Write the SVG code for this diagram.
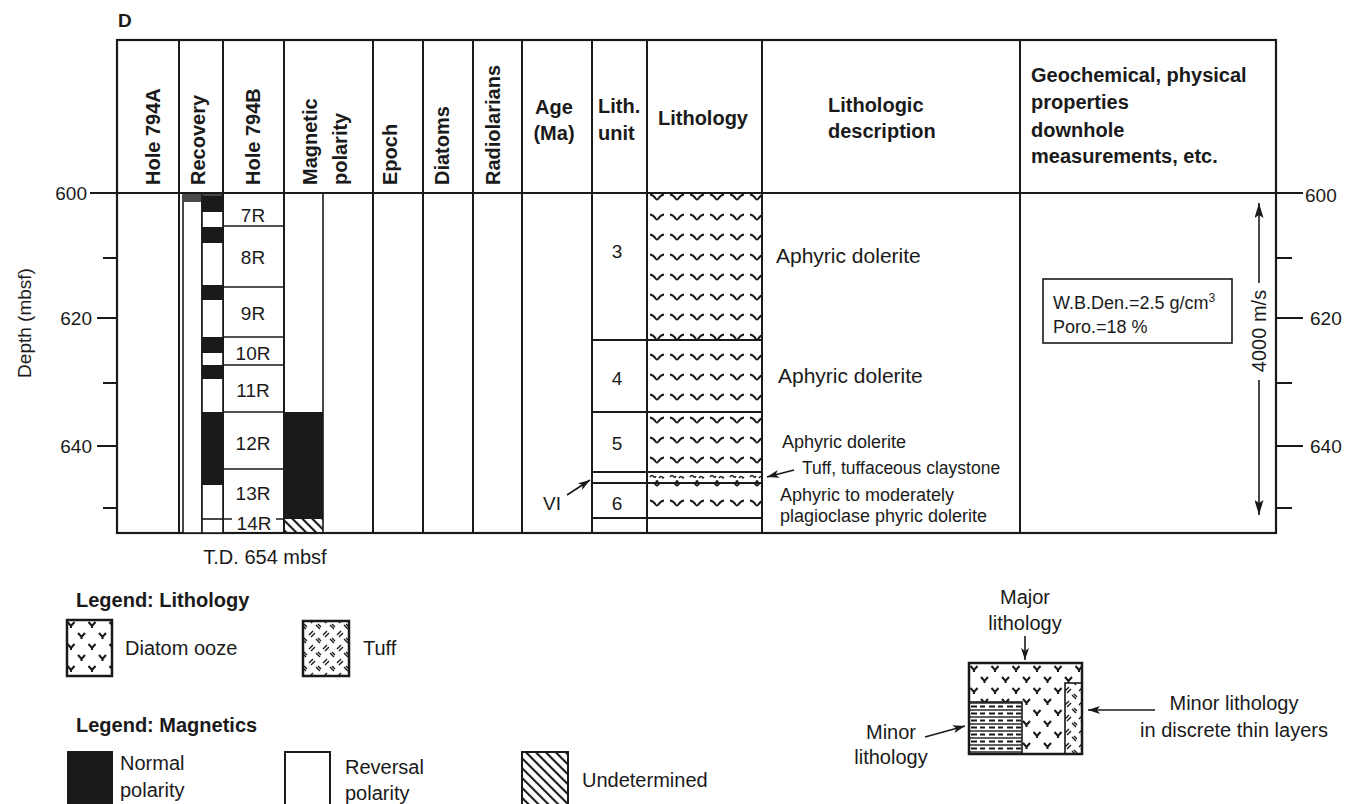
<svg xmlns="http://www.w3.org/2000/svg" width="1346" height="804" viewBox="0 0 1346 804">
<style>
text{font-family:"Liberation Sans",Arial,Helvetica,sans-serif;fill:#1a1a1a}
.h{font-weight:bold;font-size:20px}
.t20{font-size:20px}
.t19{font-size:19px}
.t18{font-size:18px}
.t21{font-size:21px}
.mid{text-anchor:middle}
.end{text-anchor:end}
.ln{stroke:#1a1a1a;stroke-width:2;fill:none}
.thin{stroke:#1a1a1a;stroke-width:1.6;fill:none}
.blk{fill:#1a1a1a}
.wb{fill:#fff;stroke:#1a1a1a;stroke-width:1.6}
.arr{stroke:#1a1a1a;stroke-width:1.6;fill:none;marker-end:url(#ah)}
.arrL{stroke:#1a1a1a;stroke-width:1.6;fill:none;marker-end:url(#ahL)}
.vv{fill:none;stroke:#1a1a1a;stroke-width:1.9}
</style>
<defs>
<marker id="ah" viewBox="0 0 12 8" refX="12" refY="4" markerWidth="12" markerHeight="8" markerUnits="userSpaceOnUse" orient="auto">
<path d="M0,0 L12,4 L0,8 L3,4 z" fill="#1a1a1a"/>
</marker>
<marker id="ahL" viewBox="0 0 15 9" refX="15" refY="4.5" markerWidth="15" markerHeight="9" markerUnits="userSpaceOnUse" orient="auto">
<path d="M0,0 L15,4.5 L0,9 L3,4.5 z" fill="#1a1a1a"/>
</marker>
<pattern id="dolA" patternUnits="userSpaceOnUse" x="647" y="187" width="20" height="20">
<path class="vv" d="M3,7.5 Q6.5,8 9,12 Q10,13.2 11,12 Q13.5,8 17,7.5"/>
</pattern>
<pattern id="dolB" patternUnits="userSpaceOnUse" x="647" y="410" width="20" height="20">
<path class="vv" d="M3,7.5 Q6.5,8 9,12 Q10,13.2 11,12 Q13.5,8 17,7.5"/>
</pattern>
<pattern id="dolC" patternUnits="userSpaceOnUse" x="647" y="473" width="20" height="20">
<path class="vv" d="M3,7.5 Q6.5,8 9,12 Q10,13.2 11,12 Q13.5,8 17,7.5"/>
</pattern>
<pattern id="tuffband" patternUnits="userSpaceOnUse" x="647" y="472" width="20" height="11">
<path d="M3,5 q2,-3 4,0 q1,1 2,-1 M12,6 q2,-3 4,0 l1,-1" fill="none" stroke="#1a1a1a" stroke-width="1.4"/>
<circle cx="10" cy="9.5" r="1.5" fill="#1a1a1a"/>
</pattern>
<pattern id="hatch" patternUnits="userSpaceOnUse" width="7" height="7" patternTransform="rotate(-45)">
<line x1="1" y1="0" x2="1" y2="7" stroke="#1a1a1a" stroke-width="2.2"/>
</pattern>
<pattern id="diat" patternUnits="userSpaceOnUse" x="969" y="663" width="21" height="22">
<path d="M1.5,3 L5,7 L8.5,3 M5,7 V9 M12,14 L15.5,18 L19,14 M15.5,18 V20" stroke="#1a1a1a" stroke-width="2.1" fill="none"/>
</pattern>
<pattern id="clay" patternUnits="userSpaceOnUse" x="969" y="702" width="18" height="7">
<path d="M0,1 H18" stroke="#1a1a1a" stroke-width="1.4"/>
<path d="M2,4.5 H8 M11,4.5 H16" stroke="#1a1a1a" stroke-width="2"/>
</pattern>
<pattern id="tuff" patternUnits="userSpaceOnUse" width="14" height="14">
<path d="M1,5 L5,1 M3,7 L7,3 M8,9 L12,13 M10,8 L13,11" stroke="#1a1a1a" stroke-width="1.4" fill="none"/>
</pattern>
</defs>
<rect width="1346" height="804" fill="#fff"/>

<g id="title">
<text x="118" y="27" style="font-weight:bold;font-size:19px">D</text>
</g>

<g id="frame">
<rect x="117" y="40" width="1159" height="493" fill="none" stroke="#1a1a1a" stroke-width="2.2"/>
<line class="ln" x1="90" y1="193" x2="1303" y2="193"/>
<path class="ln" d="M179,40 V533 M223,40 V533 M284,40 V533 M373,40 V533 M423,40 V533 M473,40 V533 M522,40 V533 M592,40 V533 M647,40 V533 M762,40 V533 M1020,40 V533"/>
</g>

<g id="header">
<text class="h" transform="translate(160,185) rotate(-90)">Hole 794A</text>
<text class="h" transform="translate(205,185) rotate(-90)">Recovery</text>
<text class="h" transform="translate(260,185) rotate(-90)">Hole 794B</text>
<text class="h" transform="translate(317,185) rotate(-90)">Magnetic</text>
<text class="h" transform="translate(347,185) rotate(-90)">polarity</text>
<text class="h" transform="translate(397,185) rotate(-90)">Epoch</text>
<text class="h" transform="translate(449,185) rotate(-90)">Diatoms</text>
<text class="h" transform="translate(500,185) rotate(-90)">Radiolarians</text>
<text class="h mid" x="554" y="114">Age</text>
<text class="h mid" x="554" y="140">(Ma)</text>
<text class="h" x="598" y="113">Lith.</text>
<text class="h" x="598" y="140">unit</text>
<text class="h mid" x="703" y="125">Lithology</text>
<text class="h" x="828" y="112">Lithologic</text>
<text class="h" x="828" y="138">description</text>
<text class="h" x="1031" y="82">Geochemical, physical</text>
<text class="h" x="1031" y="109">properties</text>
<text class="h" x="1031" y="137">downhole</text>
<text class="h" x="1031" y="163">measurements, etc.</text>
</g>

<g id="depth-axis">
<path class="ln" d="M103,258 H117 M97,318 H117 M103,383 H117 M97,446 H117 M103,508 H117"/>
<path class="ln" d="M1276,258 H1292 M1276,318 H1303 M1276,383 H1292 M1276,446 H1303 M1276,508 H1292"/>
<text class="t19 end" x="87" y="200">600</text>
<text class="t19 end" x="92" y="325">620</text>
<text class="t19 end" x="92" y="453">640</text>
<text class="t19" x="1305" y="202">600</text>
<text class="t19" x="1310" y="325">620</text>
<text class="t19" x="1310" y="453">640</text>
<text class="t19 mid" transform="translate(31,323) rotate(-90)">Depth (mbsf)</text>
</g>

<g id="col-recovery">
<rect class="wb" x="183" y="195" width="19" height="338"/>
<rect x="183" y="195" width="19" height="7" fill="#4a4a4a"/>
<rect class="wb" x="202" y="195" width="21" height="338"/>
<rect class="blk" x="202" y="196" width="21" height="16"/>
<rect class="blk" x="202" y="227" width="21" height="16"/>
<rect class="blk" x="202" y="285" width="21" height="15"/>
<rect class="blk" x="202" y="337" width="21" height="16"/>
<rect class="blk" x="202" y="365" width="21" height="14"/>
<rect class="blk" x="202" y="412" width="21" height="73"/>
<line class="thin" x1="202" y1="519" x2="223" y2="519"/>
</g>

<g id="col-hole794b">
<path class="thin" d="M223,226 H284 M223,287 H284 M223,337 H284 M223,365 H284 M223,412 H284 M223,469 H284 M223,519 H232 M276,519 H284"/>
<text class="t19 mid" x="253" y="222">7R</text>
<text class="t19 mid" x="253" y="264">8R</text>
<text class="t19 mid" x="253" y="320">9R</text>
<text class="t19 mid" x="253" y="360">10R</text>
<text class="t19 mid" x="253" y="397">11R</text>
<text class="t19 mid" x="253" y="450">12R</text>
<text class="t19 mid" x="253" y="500">13R</text>
<text class="t19 mid" x="254" y="530">14R</text>
</g>

<g id="col-magnetic">
<line class="thin" x1="323" y1="193" x2="323" y2="533"/>
<rect class="blk" x="284" y="412" width="39" height="107"/>
<rect x="285" y="519" width="38" height="14" fill="url(#hatch)"/>
</g>

<g id="col-lithology">
<rect x="648" y="194" width="113" height="146" fill="url(#dolA)"/>
<rect x="648" y="340" width="113" height="72" fill="url(#dolA)"/>
<rect x="648" y="412" width="113" height="60" fill="url(#dolB)"/>
<rect x="648" y="472" width="113" height="11" fill="url(#tuffband)"/>
<rect x="648" y="483" width="113" height="35" fill="url(#dolC)"/>
<path class="ln" d="M592,340 H762 M592,412 H762 M592,472 H762 M592,483 H762 M592,518 H762"/>
<text class="t19 mid" x="617" y="258">3</text>
<text class="t19 mid" x="617" y="385">4</text>
<text class="t19 mid" x="617" y="450">5</text>
<text class="t19 mid" x="617" y="510">6</text>
<text class="t19" x="543" y="510">VI</text>
</g>

<g id="descriptions">
<text class="t21" x="776" y="263">Aphyric dolerite</text>
<text class="t21" x="778" y="383">Aphyric dolerite</text>
<text class="t18" x="782" y="448">Aphyric dolerite</text>
<text class="t18" x="802" y="474" style="font-size:17.5px">Tuff, tuffaceous claystone</text>
<text class="t18" x="780" y="501">Aphyric to moderately</text>
<text class="t18" x="780" y="522">plagioclase phyric dolerite</text>
</g>

<g id="geochem">
<rect x="1043" y="279" width="189" height="64" fill="none" stroke="#1a1a1a" stroke-width="1.6"/>
<text class="t18" x="1053" y="309">W.B.Den.=2.5 g/cm<tspan dy="-7" style="font-size:12px">3</tspan></text>
<text class="t18" x="1053" y="333">Poro.=18 %</text>
<text class="t20 mid" transform="translate(1266,331) rotate(-90)">4000 m/s</text>
</g>

<g id="connectors">
<line class="arrL" x1="1259" y1="283" x2="1259" y2="203"/>
<line class="arrL" x1="1259" y1="380" x2="1259" y2="515"/>
<line class="arr" x1="567" y1="495" x2="590" y2="480"/>
<line class="arr" x1="794" y1="470" x2="767" y2="477"/>
<line class="arr" x1="1025" y1="636" x2="1025" y2="660"/>
<line class="arr" x1="925" y1="737" x2="965" y2="726"/>
<line class="arr" x1="1155" y1="710" x2="1088" y2="710"/>
</g>

<g id="td">
<text class="t20 mid" x="265" y="564">T.D. 654 mbsf</text>
</g>

<g id="legend-lithology">
<text class="h" x="76" y="607">Legend: Lithology</text>
<rect x="67" y="620" width="45" height="56" fill="url(#diat)" stroke="#1a1a1a" stroke-width="2.5"/>
<text class="t20" x="125" y="655">Diatom ooze</text>
<rect x="303" y="621" width="46" height="55" fill="url(#tuff)" stroke="#1a1a1a" stroke-width="2.5"/>
<text class="t20" x="363" y="655">Tuff</text>
</g>

<g id="legend-magnetics">
<text class="h" x="76" y="732">Legend: Magnetics</text>
<rect class="blk" x="67" y="751" width="46" height="60"/>
<text class="t20" x="120" y="770">Normal</text>
<text class="t20" x="120" y="797">polarity</text>
<rect x="285" y="752" width="45" height="60" fill="#fff" stroke="#1a1a1a" stroke-width="2"/>
<text class="t20" x="345" y="774">Reversal</text>
<text class="t20" x="345" y="800">polarity</text>
<rect x="522" y="752" width="46" height="60" fill="url(#hatch)" stroke="#1a1a1a" stroke-width="2"/>
<text class="t20" x="582" y="787">Undetermined</text>
</g>

<g id="legend-minor">
<text class="t20 mid" x="1025" y="604">Major</text>
<text class="t20 mid" x="1025" y="630">lithology</text>
<rect x="969" y="663" width="113" height="91" fill="url(#diat)"/>
<rect x="969" y="702" width="53" height="52" fill="#fff"/>
<rect x="969" y="702" width="53" height="52" fill="url(#clay)" stroke="#1a1a1a" stroke-width="1.6"/>
<rect x="1065" y="683" width="17" height="71" fill="#fff"/>
<rect x="1065" y="683" width="17" height="71" fill="url(#tuff)" stroke="#1a1a1a" stroke-width="1.6"/>
<rect x="969" y="663" width="113" height="91" fill="none" stroke="#1a1a1a" stroke-width="2.5"/>
<text class="t20 mid" x="891" y="739">Minor</text>
<text class="t20 mid" x="891" y="764">lithology</text>
<text class="t20 mid" x="1234" y="710">Minor lithology</text>
<text class="t20 mid" x="1234" y="737">in discrete thin layers</text>
</g>
</svg>
